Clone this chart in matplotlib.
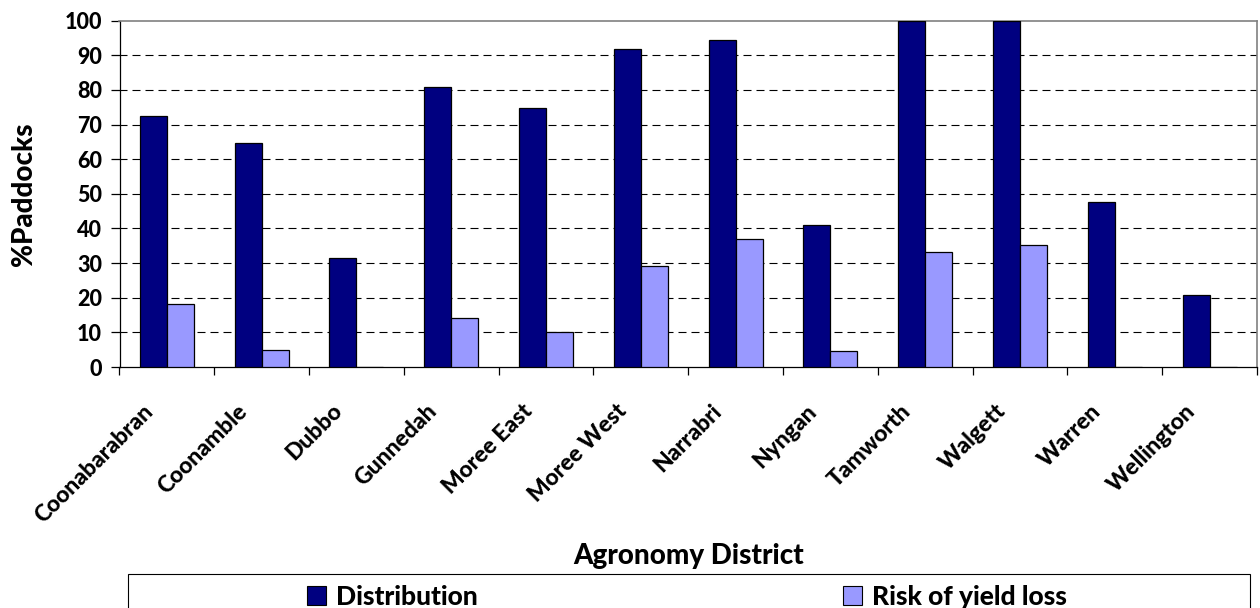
import matplotlib
matplotlib.use('Agg')
import matplotlib.pyplot as plt
from matplotlib.patches import Rectangle, Patch
from matplotlib.transforms import ScaledTranslation
import numpy as np

districts = ['Coonabarabran', 'Coonamble', 'Dubbo', 'Gunnedah', 'Moree East',
             'Moree West', 'Narrabri', 'Nyngan', 'Tamworth', 'Walgett',
             'Warren', 'Wellington']
distribution = [72.6, 64.8, 31.5, 80.9, 74.9, 91.8, 94.5, 41.0, 100, 100, 47.6, 20.9]
risk = [18.2, 4.9, 0, 14.1, 10.0, 29.2, 37.0, 4.5, 33.3, 35.1, 0, 0]
yticks = list(range(0, 101, 10))
series_names = ['Distribution', 'Risk of yield loss']
series_colors = ['#000080', '#9999FF']

plt.rcParams['font.family'] = ['Lato', 'DejaVu Sans']
WEIGHT = 'black'
plt.rcParams['font.weight'] = WEIGHT

W, H = 1260, 608
fig = plt.figure(figsize=(W / 100, H / 100), dpi=100)
ax_l, ax_r, ax_t, ax_b = 119.5, 1257, 20.7, 367
ax = fig.add_axes([ax_l / W, (H - ax_b) / H, (ax_r - ax_l) / W, (ax_b - ax_t) / H])

x = np.arange(len(districts))
bw = 0.285
ax.bar(x - bw / 2, distribution, bw, color=series_colors[0], edgecolor='black',
       linewidth=0.9, zorder=3, label=series_names[0])
ax.bar(x + bw / 2, risk, bw, color=series_colors[1], edgecolor='black',
       linewidth=0.9, zorder=3, label=series_names[1])

ax.set_xlim(-0.5, len(districts) - 0.5)
ax.set_ylim(0, 100)

# gridlines (dashed) for interior ticks
ax.hlines(yticks[1:-1], -0.5, len(districts) - 0.5, colors='black',
          linestyles=[(0, (7.2, 4.5))], linewidth=0.8, zorder=1)

for s in ['left', 'bottom']:
    ax.spines[s].set_color('black')
    ax.spines[s].set_linewidth(0.9)
for s in ['top', 'right']:
    ax.spines[s].set_color('#808080')
    ax.spines[s].set_linewidth(1.2)

ax.set_yticks(yticks)
ax.set_yticklabels([str(v) for v in yticks], fontsize=15.5, fontweight=WEIGHT)
ax.tick_params(axis='y', direction='out', length=6.5, width=0.9, pad=6)

ax.set_xticks(np.arange(-0.5, len(districts), 1.0))
ax.set_xticklabels([])
ax.tick_params(axis='x', which='major', direction='out', length=6, width=0.9)
ax.set_xticks(x, minor=True)
ax.set_xticklabels(districts, minor=True, rotation=45, ha='right', va='top',
                   fontsize=16.5, fontweight=WEIGHT)
ax.tick_params(axis='x', which='minor', length=0, pad=24)
for lab in ax.get_xticklabels(minor=True):
    lab.set_transform(lab.get_transform() + ScaledTranslation(-10 / 100, 0, fig.dpi_scale_trans))

ax.set_ylabel('%Paddocks', fontsize=20, fontweight=WEIGHT)
ax.yaxis.set_label_coords(-(ax_l - 37) / (ax_r - ax_l), 0.5)
ax.set_xlabel('Agronomy District', fontsize=20, fontweight=WEIGHT)
ax.xaxis.set_label_coords(0.5, -(543 - ax_b) / (ax_b - ax_t))

# legend frame (cut off at the bottom like the original)
fig.add_artist(Rectangle((128 / W, -0.05), (1250 - 128) / W, (H - 574) / H + 0.05,
                         transform=fig.transFigure, fill=False, edgecolor='black',
                         linewidth=0.8))

fs_leg = 19
px_per_em = fs_leg * 100 / 72
leg_x = [307, 843]
for name, col, lx in zip(series_names, series_colors, leg_x):
    h = Patch(facecolor=col, edgecolor='black', linewidth=0.8)
    fig.legend([h], [name], loc='upper left',
               bbox_to_anchor=(lx / W, (H - 585) / H), frameon=False,
               borderpad=0, borderaxespad=0,
               handlelength=19 / px_per_em, handleheight=19 / px_per_em,
               handletextpad=10 / px_per_em,
               prop={'weight': WEIGHT, 'size': fs_leg})

fig.savefig('out.png', dpi=100)
